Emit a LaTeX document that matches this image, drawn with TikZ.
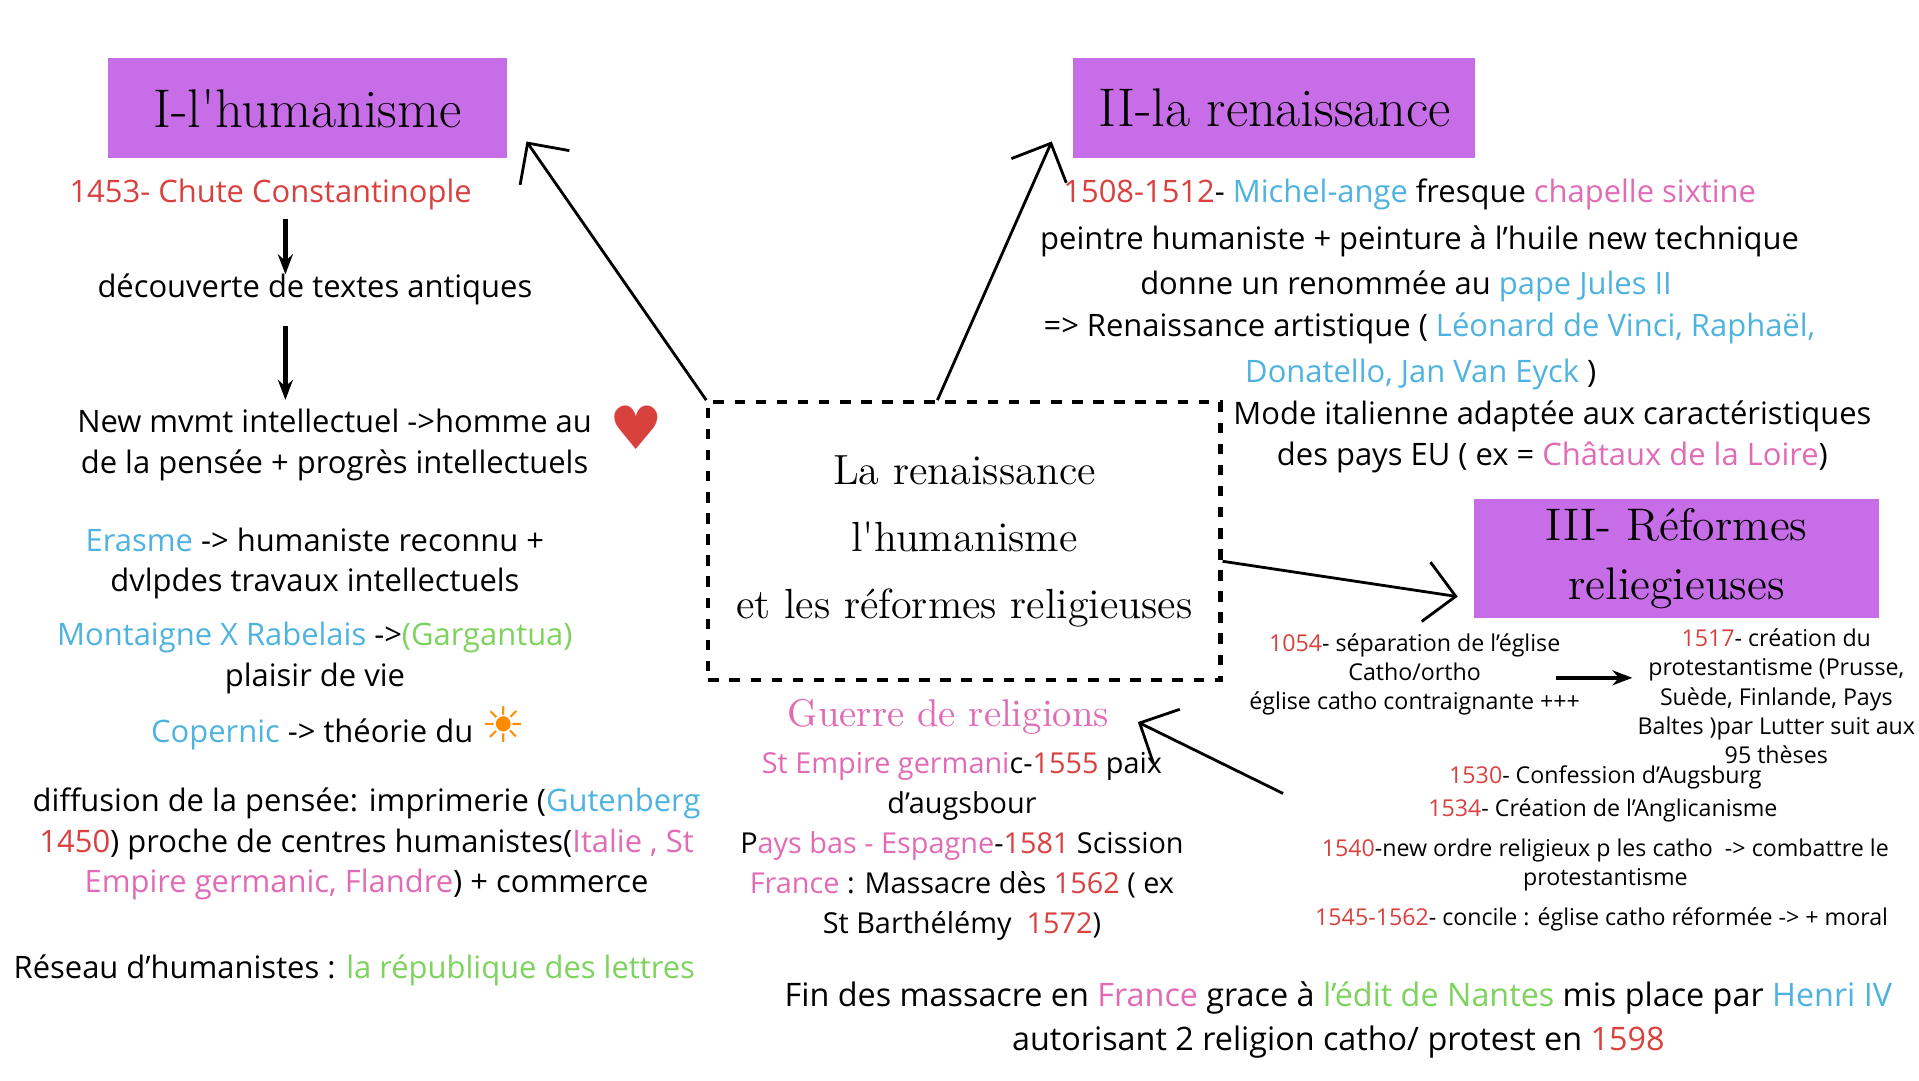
\documentclass[tikz,border=0pt]{standalone}
\usepackage{fontspec}
\setmainfont{Open Sans}
\newfontfamily\titlefont{Latin Modern Roman}
\newfontfamily\symfont{DejaVu Sans}
\usetikzlibrary{positioning}
\usetikzlibrary{arrows.meta}
\definecolor{tred}{HTML}{D9413F}
\definecolor{tblue}{HTML}{4FB3E0}
\definecolor{tpink}{HTML}{E26BB5}
\definecolor{tgreen}{HTML}{7ED35E}
\definecolor{tpurple}{HTML}{C86DE8}
\newcommand\rd[1]{\textcolor{tred}{#1}}
\newcommand\bl[1]{\textcolor{tblue}{#1}}
\newcommand\pk[1]{\textcolor{tpink}{#1}}
\newcommand\gn[1]{\textcolor{tgreen}{#1}}
\begin{document}
\begin{tikzpicture}[x=0.0123cm, y=-0.0123cm]
\tikzset{
  txt/.style={align=center, inner sep=1pt, font=\fontsize{8.8}{11.6}\selectfont},
  small/.style={align=center, inner sep=1pt, font=\fontsize{6.6}{8.3}\selectfont},
  title/.style={fill=tpurple, align=center, inner sep=0pt, font=\titlefont\fontsize{15.5}{21}\selectfont},
  line/.style={draw, thick, -{Straight Barb[length=3mm]}},
  down/.style={draw, very thick, -{Stealth[length=2mm]}}
}
\useasboundingbox[fill=white] (0,0) rectangle (1560,878);

% titles
\node [title, minimum width=3.99cm, minimum height=1cm] (hum) at (250,88) {I-l'humanisme};
\node [title, minimum width=4.02cm, minimum height=1cm] (ren) at (1036,88) {II-la renaissance};
\node [title, minimum width=4.05cm, minimum height=1.18cm, font=\titlefont\fontsize{13}{17}\selectfont] (ref) at (1363,454) {III- Réformes\\reliegieuses};

% centre
\node [draw, dashed, very thick, minimum width=5.12cm, minimum height=2.78cm, align=center,
       font=\titlefont\fontsize{12}{19}\selectfont] (ctr) at (784,440)
  {La renaissance\\l'humanisme\\et les réformes religieuses};

% left column
\node [txt] (l1) at (220,158) {\rd{1453- Chute Constantinople}};
\node [txt] (l2) at (256,235) {découverte de textes antiques};
\node [txt] (l3) at (272,362) {New mvmt intellectuel ->homme au\\de la pensée + progrès intellectuels};
\node [font=\symfont\fontsize{17}{17}\selectfont, text=tred] (heart) at (517,348) {♥};
\node [txt] (l4) at (256,458) {\bl{Erasme} -> humaniste reconnu +\\dvlpdes travaux intellectuels};
\node [txt] (l5) at (256,535) {\bl{Montaigne X Rabelais} ->\gn{(Gargantua)}\\plaisir de vie};
\node [txt] (l6) at (275,592) {\bl{Copernic} -> théorie du \textcolor{orange!90!yellow}{\symfont\fontsize{14}{14}\selectfont ☀}};
\node [txt] (l7) at (298,686) {diffusion de la pensée: imprimerie (\bl{Gutenberg}\\\rd{1450}) proche de centres humanistes(\pk{Italie , St}\\\pk{Empire germanic, Flandre}) + commerce};
\node [txt] (l8) at (288,789) {Réseau d'humanistes : \gn{la république des lettres}};

% right column, part II
\node [txt] (r1) at (1146,158) {\rd{1508-1512}- \bl{Michel-ange} fresque \pk{chapelle sixtine}};
\node [txt] (r2) at (1154,196) {peintre humaniste + peinture à l'huile new technique};
\node [txt] (r3) at (1143,233) {donne un renommée au \bl{pape Jules II}};
\node [txt] (r4) at (1162,267) {=> Renaissance artistique ( \bl{Léonard de Vinci, Raphaël,}};
\node [txt] (r5) at (1155,304) {\bl{Donatello, Jan Van Eyck} )};
\node [txt] (r6) at (1262,355) {Mode italienne adaptée aux caractéristiques\\des pays EU ( ex = \pk{Châtaux de la Loire})};

% part III
\node [small] (s1) at (1150,548) {\rd{1054}- séparation de l'église\\Catho/ortho\\église catho contraignante +++};
\node [small] (s2) at (1444,566) {\rd{1517}- création du\\protestantisme (Prusse,\\Suède, Finlande, Pays\\Baltes )par Lutter suit aux\\95 thèses};
\node [small] (s3) at (1305,632) {\rd{1530}- Confession d'Augsburg};
\node [small] (s4) at (1303,659) {\rd{1534}- Création de l'Anglicanisme};
\node [small] (s5) at (1305,703) {\rd{1540}-new ordre religieux p les catho ~-> combattre le\\protestantisme};
\node [small] (s6) at (1302,747) {\rd{1545-1562}- concile : église catho réformée -> + moral};

% guerre de religions
\node [font=\titlefont\fontsize{11}{14}\selectfont, text=tpink] (gr) at (771,583) {Guerre de religions};
\node [txt, font=\fontsize{8.2}{11.4}\selectfont] (g1) at (782,688) {\pk{St Empire germani}c-\rd{1555} paix\\d'augsbour\\P\pk{ays bas - Espagne}-\rd{1581} Scission\\\pk{France} : Massacre dès \rd{1562} ( ex\\St Barthélémy ~\rd{1572})};
\node [txt, font=\fontsize{9.2}{12.6}\selectfont] (fin) at (1088,829) {Fin des massacre en \pk{France} grace à \gn{l'édit de Nantes} mis place par \bl{Henri IV}\\autorisant 2 religion catho/ protest en \rd{1598}};

% connectors
\coordinate (c1) at (428,115);
\coordinate (c2) at (855,115);
\coordinate (c3) at (1185,485);
\coordinate (c4) at (1043,645);
\coordinate (c5) at (925,587);
\path [line] (ctr.north west) -- (c1);
\path [line] ([xshift=-0.27cm]ctr.north) -- (c2);
\path [line] ([yshift=-0.2cm]ctr.east) -- (c3);
\path [line] (c4) -- (c5);
\path [down] (l1.south -| 232,0) ++(0,4) -- ++(0,45);
\path [down] (l2.south -| 232,0) ++(0,14) -- ++(0,60);
\path [down] (1265,551) -- (1327,551);
\end{tikzpicture}
\end{document}
